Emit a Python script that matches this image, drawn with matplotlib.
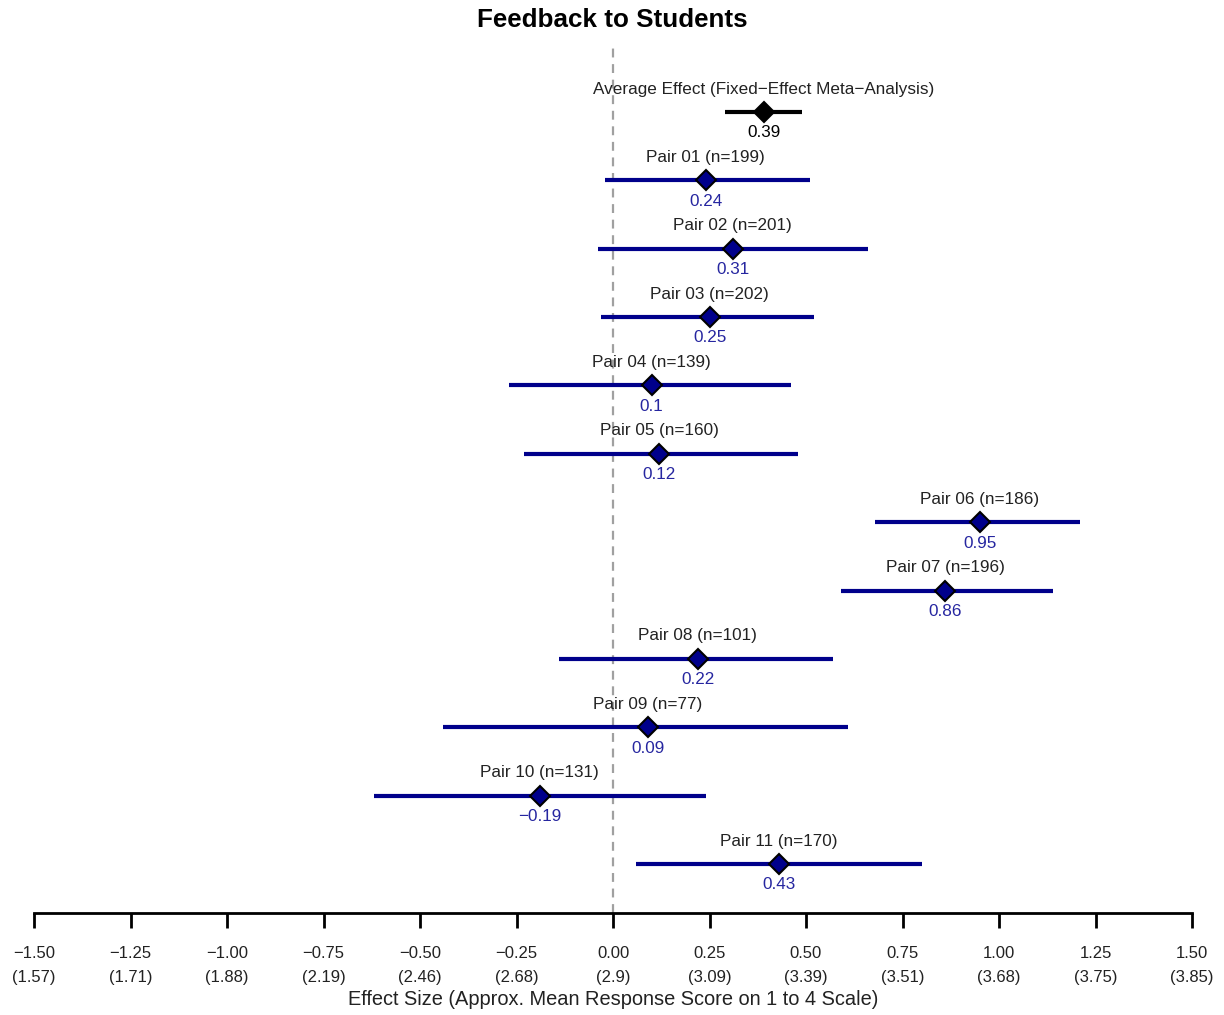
import matplotlib.pyplot as plt

plt.rcParams["font.family"] = ["Liberation Sans", "DejaVu Sans"]

# study rows, top to bottom
labels = ["Average Effect (Fixed\u2212Effect Meta\u2212Analysis)",
          "Pair 01 (n=199)", "Pair 02 (n=201)", "Pair 03 (n=202)",
          "Pair 04 (n=139)", "Pair 05 (n=160)", "Pair 06 (n=186)",
          "Pair 07 (n=196)", "Pair 08 (n=101)", "Pair 09 (n=77)",
          "Pair 10 (n=131)", "Pair 11 (n=170)"]
est = [0.39, 0.24, 0.31, 0.25, 0.10, 0.12, 0.95, 0.86, 0.22, 0.09, -0.19, 0.43]
lower = [0.29, -0.02, -0.04, -0.03, -0.27, -0.23, 0.68, 0.59, -0.14, -0.44, -0.62, 0.06]
upper = [0.49, 0.51, 0.66, 0.52, 0.46, 0.48, 1.21, 1.14, 0.57, 0.61, 0.24, 0.80]

# axis ticks: effect size and approximate mean response score
ticks = [-1.5, -1.25, -1.0, -0.75, -0.5, -0.25, 0.0, 0.25, 0.5, 0.75, 1.0, 1.25, 1.5]
scores = ["1.57", "1.71", "1.88", "2.19", "2.46", "2.68", "2.9",
          "3.09", "3.39", "3.51", "3.68", "3.75", "3.85"]


def fmt(v):
    return f"{v:g}".replace("-", "\u2212")


fig = plt.figure(figsize=(12.24, 10.15), dpi=100)
ax = fig.add_axes([34 / 1224, 1 - 913 / 1015, (1192 - 34) / 1224, (913 - 45) / 1015])
ax.set_xlim(-1.5, 1.5)
ax.set_ylim(-11.717, 0.98)

ax.axvline(0, color="#a0a0a0", lw=1.6, ls=(0, (4, 3)), zorder=1)

for i, lab in enumerate(labels):
    y = -i
    col = "black" if i == 0 else "#00008B"
    tcol = "black" if i == 0 else "#2626a0"
    ax.plot([lower[i], upper[i]], [y, y], color=col, lw=3, solid_capstyle="butt", zorder=2)
    ax.plot(est[i], y, marker="D", ms=10, mfc=col, mec="black", mew=1.5, zorder=3)
    ax.annotate(lab, (est[i], y), xytext=(0, 16.5), textcoords="offset points",
                ha="center", va="center", fontsize=12.3, color="#222222")
    ax.annotate(fmt(est[i]), (est[i], y), xytext=(0, -15), textcoords="offset points",
                ha="center", va="center", fontsize=12.3, color=tcol)

for s in ["left", "right", "top"]:
    ax.spines[s].set_visible(False)
ax.spines["bottom"].set_bounds(-1.5, 1.5)
ax.spines["bottom"].set_linewidth(2)
ax.set_yticks([])
ax.set_xticks(ticks)
ax.set_xticklabels([f"{t:.2f}".replace("-", "\u2212") + f"\n({s})" for t, s in zip(ticks, scores)],
                   linespacing=1.75, fontsize=12, color="#222222")
ax.tick_params(axis="x", length=10.5, width=2, pad=13)
ax.set_xlabel("Effect Size (Approx. Mean Response Score on 1 to 4 Scale)",
              fontsize=14.4, color="#222222", labelpad=4)

fig.text(0.5, 1 - 20 / 1015, "Feedback to Students", ha="center", va="center",
         fontsize=18.7, fontweight="bold")

fig.savefig("out.png", dpi=100)
